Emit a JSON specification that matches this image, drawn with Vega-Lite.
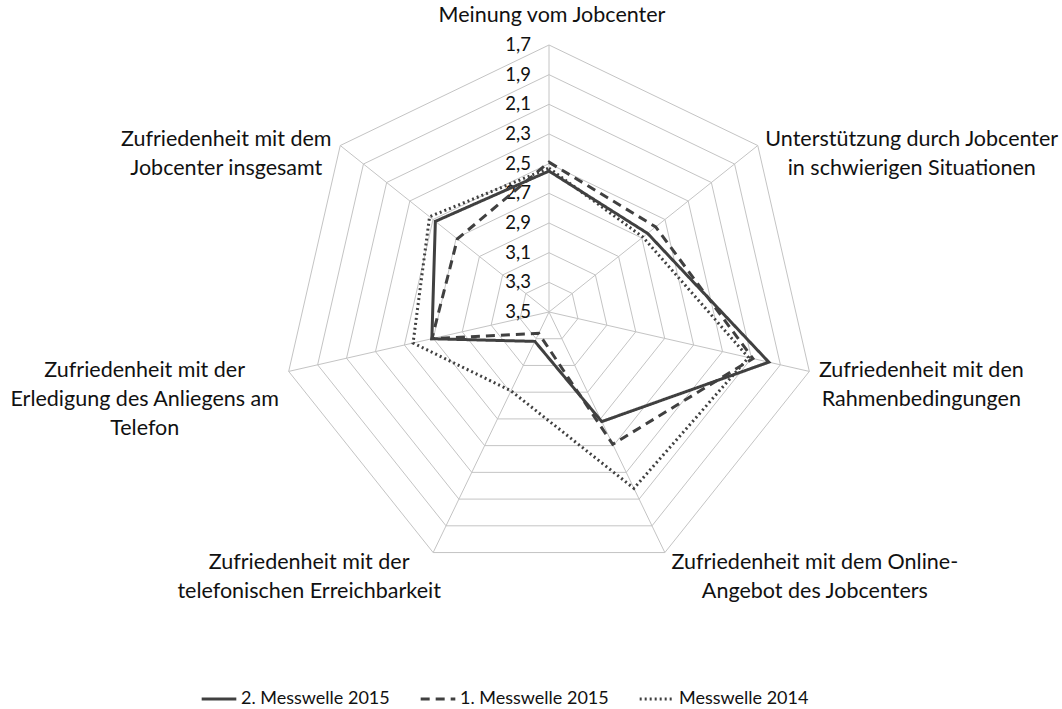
{
  "$schema": "https://vega.github.io/schema/vega-lite/v6.json",
  "width": 1062,
  "height": 709,
  "autosize": {"type": "none"},
  "padding": 0,
  "background": "white",
  "config": {"view": {"stroke": null}, "font": "Lato"},
  "datasets": {
    "series": [
      {"serie": "2. Messwelle 2015", "axis": 0, "value": 2.55},
      {"serie": "2. Messwelle 2015", "axis": 1, "value": 2.65},
      {"serie": "2. Messwelle 2015", "axis": 2, "value": 1.98},
      {"serie": "2. Messwelle 2015", "axis": 3, "value": 2.68},
      {"serie": "2. Messwelle 2015", "axis": 4, "value": 3.28},
      {"serie": "2. Messwelle 2015", "axis": 5, "value": 2.69},
      {"serie": "2. Messwelle 2015", "axis": 6, "value": 2.52},
      {"serie": "1. Messwelle 2015", "axis": 0, "value": 2.49},
      {"serie": "1. Messwelle 2015", "axis": 1, "value": 2.58},
      {"serie": "1. Messwelle 2015", "axis": 2, "value": 2.09},
      {"serie": "1. Messwelle 2015", "axis": 3, "value": 2.51},
      {"serie": "1. Messwelle 2015", "axis": 4, "value": 3.34},
      {"serie": "1. Messwelle 2015", "axis": 5, "value": 2.69},
      {"serie": "1. Messwelle 2015", "axis": 6, "value": 2.71},
      {"serie": "Messwelle 2014", "axis": 0, "value": 2.53},
      {"serie": "Messwelle 2014", "axis": 1, "value": 2.69},
      {"serie": "Messwelle 2014", "axis": 2, "value": 2.12},
      {"serie": "Messwelle 2014", "axis": 3, "value": 2.18},
      {"serie": "Messwelle 2014", "axis": 4, "value": 2.91},
      {"serie": "Messwelle 2014", "axis": 5, "value": 2.56},
      {"serie": "Messwelle 2014", "axis": 6, "value": 2.47}
    ],
    "axes": [
      {"axis": 0, "label": "Meinung vom Jobcenter"},
      {"axis": 1, "label": "Unterstützung durch Jobcenter\nin schwierigen Situationen"},
      {"axis": 2, "label": "Zufriedenheit mit den\nRahmenbedingungen"},
      {"axis": 3, "label": "Zufriedenheit mit dem Online-\nAngebot des Jobcenters"},
      {"axis": 4, "label": "Zufriedenheit mit der\ntelefonischen Erreichbarkeit"},
      {"axis": 5, "label": "Zufriedenheit mit der\nErledigung des Anliegens am\nTelefon"},
      {"axis": 6, "label": "Zufriedenheit mit dem\nJobcenter insgesamt"}
    ],
    "rings": [
      {"ring": 1.7, "label": "1,7", "k": [0, 1, 2, 3, 4, 5, 6]},
      {"ring": 1.9, "label": "1,9", "k": [0, 1, 2, 3, 4, 5, 6]},
      {"ring": 2.1, "label": "2,1", "k": [0, 1, 2, 3, 4, 5, 6]},
      {"ring": 2.3, "label": "2,3", "k": [0, 1, 2, 3, 4, 5, 6]},
      {"ring": 2.5, "label": "2,5", "k": [0, 1, 2, 3, 4, 5, 6]},
      {"ring": 2.7, "label": "2,7", "k": [0, 1, 2, 3, 4, 5, 6]},
      {"ring": 2.9, "label": "2,9", "k": [0, 1, 2, 3, 4, 5, 6]},
      {"ring": 3.1, "label": "3,1", "k": [0, 1, 2, 3, 4, 5, 6]},
      {"ring": 3.3, "label": "3,3", "k": [0, 1, 2, 3, 4, 5, 6]},
      {"ring": 3.5, "label": "3,5", "k": [0, 1, 2, 3, 4, 5, 6]}
    ]
  },
  "layer": [
    {
      "data": {"name": "rings"},
      "transform": [
        {"filter": "datum.ring < 3.5"},
        {"flatten": ["k"]},
        {"calculate": "datum.k * 2 * PI / 7", "as": "ang"},
        {"calculate": "(3.5 - datum.ring) / 1.8", "as": "r"},
        {"calculate": "datum.r * sin(datum.ang)", "as": "px"},
        {"calculate": "datum.r * cos(datum.ang)", "as": "py"}
      ],
      "mark": {"type": "line", "interpolate": "linear-closed", "stroke": "#c4c4c4", "strokeWidth": 1},
      "encoding": {
        "x": {"field": "px", "type": "quantitative", "scale": {"domain": [-2.0562, 1.9213], "nice": false, "zero": false}, "axis": null},
        "y": {"field": "py", "type": "quantitative", "scale": {"domain": [-1.4869, 1.1685], "nice": false, "zero": false}, "axis": null},
        "detail": {"field": "ring", "type": "nominal"},
        "order": {"field": "k", "type": "quantitative"}
      }
    },
    {
      "data": {"name": "axes"},
      "transform": [
        {"calculate": "datum.axis * 2 * PI / 7", "as": "ang"},
        {"calculate": "sin(datum.ang)", "as": "px"},
        {"calculate": "cos(datum.ang)", "as": "py"}
      ],
      "mark": {"type": "rule", "stroke": "#c4c4c4", "strokeWidth": 1},
      "encoding": {
        "x": {"field": "px", "type": "quantitative"},
        "y": {"field": "py", "type": "quantitative"},
        "x2": {"datum": 0},
        "y2": {"datum": 0}
      }
    },
    {
      "data": {"name": "rings"},
      "transform": [
        {"calculate": "(3.5 - datum.ring) / 1.8", "as": "py"}
      ],
      "mark": {"type": "text", "align": "right", "baseline": "middle", "dx": -18, "fontSize": 18.5, "color": "#111111"},
      "encoding": {
        "x": {"datum": 0, "type": "quantitative"},
        "y": {"field": "py", "type": "quantitative"},
        "text": {"field": "label"}
      }
    },
    {
      "data": {"name": "series"},
      "transform": [
        {"calculate": "datum.axis * 2 * PI / 7", "as": "ang"},
        {"calculate": "(3.5 - datum.value) / 1.8", "as": "r"},
        {"calculate": "datum.r * sin(datum.ang)", "as": "px"},
        {"calculate": "datum.r * cos(datum.ang)", "as": "py"}
      ],
      "mark": {"type": "line", "interpolate": "linear-closed", "color": "#404040", "strokeWidth": 3},
      "encoding": {
        "x": {"field": "px", "type": "quantitative"},
        "y": {"field": "py", "type": "quantitative"},
        "order": {"field": "axis", "type": "quantitative"},
        "strokeDash": {
          "field": "serie",
          "type": "nominal",
          "scale": {"domain": ["2. Messwelle 2015", "1. Messwelle 2015", "Messwelle 2014"], "range": [[1, 0], [9, 6], [2, 3]]},
          "legend": {
            "orient": "none",
            "legendX": 200,
            "legendY": 680,
            "direction": "horizontal",
            "title": null,
            "symbolType": "stroke",
            "symbolSize": 1200,
            "symbolStrokeWidth": 3,
            "symbolStrokeColor": "#404040",
            "labelFontSize": 18,
            "labelFont": "Lato",
            "labelColor": "#111111",
            "columnPadding": 24,
            "labelOffset": 3,
            "padding": 0
          }
        }
      }
    },
    {
      "data": {"name": "axes"},
      "transform": [
        {"calculate": "datum.axis * 2 * PI / 7", "as": "ang"},
        {"calculate": "sin(datum.ang)", "as": "px"},
        {"calculate": "cos(datum.ang)", "as": "py"}
      ],
      "encoding": {
        "x": {"field": "px", "type": "quantitative"},
        "y": {"field": "py", "type": "quantitative"},
        "text": {"field": "label"}
      },
      "layer": [
        {"transform": [{"filter": "datum.axis == 0"}], "mark": {"type": "text", "align": "center", "baseline": "middle", "lineBreak": "\n", "lineHeight": 29, "fontSize": 21.5, "color": "#111111", "dx": 3, "dy": -29}},
        {"transform": [{"filter": "datum.axis == 1"}], "mark": {"type": "text", "align": "center", "baseline": "middle", "lineBreak": "\n", "lineHeight": 29, "fontSize": 21.5, "color": "#111111", "dx": 154, "dy": -6}},
        {"transform": [{"filter": "datum.axis == 2"}], "mark": {"type": "text", "align": "center", "baseline": "middle", "lineBreak": "\n", "lineHeight": 29, "fontSize": 21.5, "color": "#111111", "dx": 112, "dy": 0}},
        {"transform": [{"filter": "datum.axis == 3"}], "mark": {"type": "text", "align": "center", "baseline": "middle", "lineBreak": "\n", "lineHeight": 29, "fontSize": 21.5, "color": "#111111", "dx": 150, "dy": 10}},
        {"transform": [{"filter": "datum.axis == 4"}], "mark": {"type": "text", "align": "center", "baseline": "middle", "lineBreak": "\n", "lineHeight": 29, "fontSize": 21.5, "color": "#111111", "dx": -124, "dy": 10}},
        {"transform": [{"filter": "datum.axis == 5"}], "mark": {"type": "text", "align": "center", "baseline": "middle", "lineBreak": "\n", "lineHeight": 29, "fontSize": 21.5, "color": "#111111", "dx": -144, "dy": 0}},
        {"transform": [{"filter": "datum.axis == 6"}], "mark": {"type": "text", "align": "center", "baseline": "middle", "lineBreak": "\n", "lineHeight": 29, "fontSize": 21.5, "color": "#111111", "dx": -114, "dy": -6}}
      ]
    }
  ]
}
